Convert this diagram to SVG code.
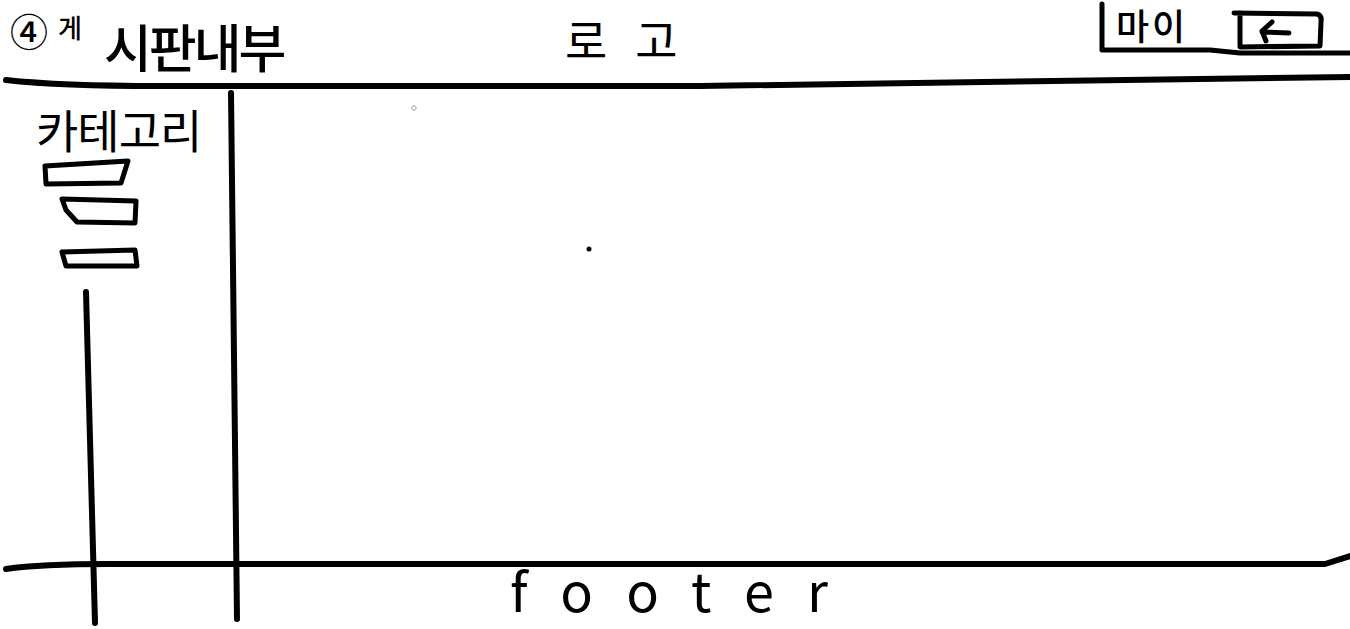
<svg xmlns="http://www.w3.org/2000/svg" width="1350" height="629" viewBox="0 0 1350 629">
<style>
.ink{fill:none;stroke:#000;stroke-width:6;stroke-linecap:round;stroke-linejoin:round}
.thin{fill:none;stroke:#000;stroke-width:5;stroke-linecap:round;stroke-linejoin:round}
.hand{font-family:"Noto Sans CJK KR","Noto Sans",sans-serif;fill:#000}
</style>
<rect width="1350" height="629" fill="#fff"/>
<g id="frame">
<path class="ink" d="M6,80 Q60,86 160,86 L700,86 L1350,77"/>
<path class="ink" d="M6,569 Q40,564 110,564 L1325,564 L1350,556"/>
<path class="ink" d="M231,93 L237,619"/>
<path class="ink" d="M86,292 L95,623"/>
</g>
<g id="title">
<text class="hand" x="10" y="46" font-size="38" font-weight="500">④</text>
<text class="hand" x="58" y="38" font-size="26" font-weight="500">게</text>
<text class="hand" x="104" y="68" font-size="52" font-weight="500" letter-spacing="-3">시판내부</text>
</g>
<g id="logo">
<text class="hand" x="565" y="58" font-size="46" letter-spacing="28">로고</text>
</g>
<g id="my">
<path class="thin" d="M1102,4 L1102,50 L1210,50 L1240,53 L1350,53"/>
<text class="hand" x="1116" y="40" font-size="36" font-weight="500" letter-spacing="3">마이</text>
</g>
<g id="back">
<path class="thin" d="M1234,13 L1317,14 Q1322,15 1321,22 L1320,46 L1240,47 L1240,13"/>
<path class="thin" d="M1262,32 L1289,33 M1272,22 L1262,31 L1266,41"/>
</g>
<g id="category">
<text class="hand" x="36" y="148" font-size="46" letter-spacing="-1">카테고리</text>
</g>
<g id="cat-item-1"><path class="thin" d="M45,166 L128,161 L121,183 L46,184 Z"/></g>
<g id="cat-item-2"><path class="thin" d="M62,199 L136,201 L135,223 L77,222 L66,210 Z"/></g>
<g id="cat-item-3"><path class="thin" d="M62,252 L135,250 L137,266 L66,266 Z"/></g>
<g id="footer">
<text class="hand" x="510" y="612" font-size="54" textLength="318" lengthAdjust="spacing">footer</text>
</g>
<circle cx="589" cy="249" r="2.5" fill="#000"/>
<circle cx="414" cy="108" r="2.2" fill="none" stroke="#999" stroke-width="1"/>
</svg>
